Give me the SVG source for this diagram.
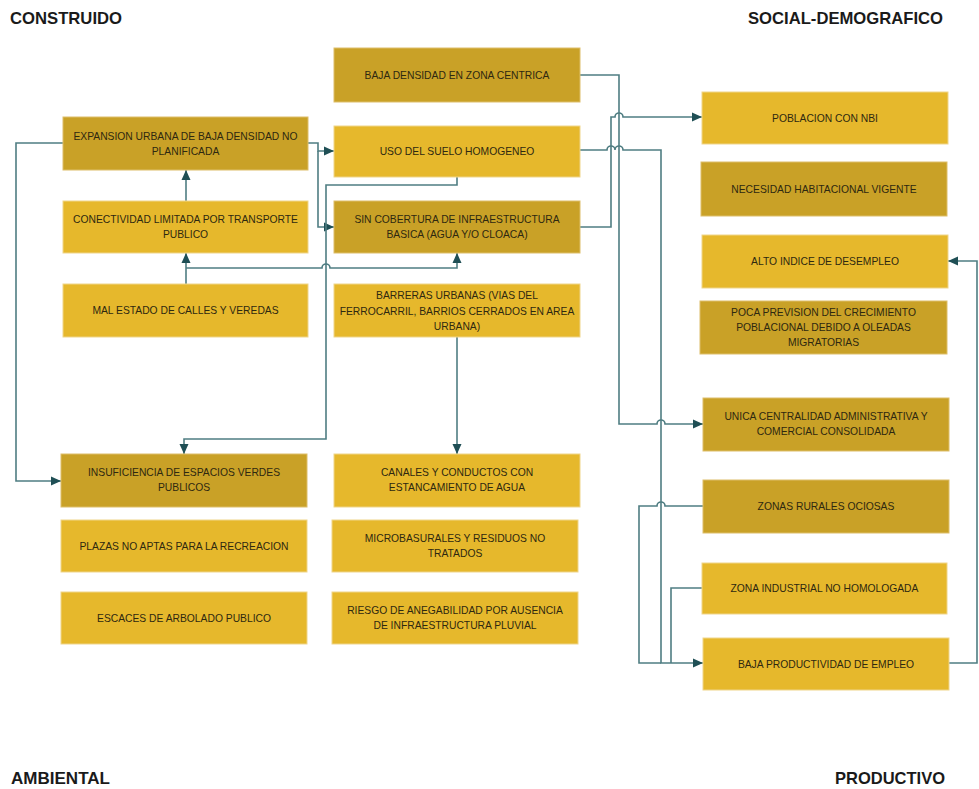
<svg xmlns="http://www.w3.org/2000/svg" width="979" height="789" viewBox="0 0 979 789">
<style>
.l{fill:#E6B82C;stroke:#EFD58A;stroke-width:1}
.d{fill:#C9A127;stroke:#DDBE6A;stroke-width:1}
.t{font-family:"Liberation Sans",Arial,sans-serif;font-size:10.3px;fill:#2E2810;text-anchor:middle}
.h{font-family:"Liberation Sans",Arial,sans-serif;font-size:17px;font-weight:bold;fill:#1A1A1A}
.c{fill:none;stroke:#4F7D82;stroke-width:1.6}
.a{marker-end:url(#arr)}
</style>
<defs>
<marker id="arr" viewBox="0 0 10 10" refX="10" refY="5" markerWidth="10" markerHeight="10" markerUnits="userSpaceOnUse" orient="auto">
<path d="M0,0.5 L10,5 L0,9.5 Z" fill="#1F4F55"/>
</marker>
</defs>
<rect width="979" height="789" fill="#FFFFFF"/>
<g id="labels">
<text class="h" x="10" y="24" textLength="112" lengthAdjust="spacingAndGlyphs">CONSTRUIDO</text>
<text class="h" x="748" y="24" textLength="195" lengthAdjust="spacingAndGlyphs">SOCIAL-DEMOGRAFICO</text>
<text class="h" x="11" y="784" textLength="99" lengthAdjust="spacingAndGlyphs">AMBIENTAL</text>
<text class="h" x="835" y="784" textLength="110" lengthAdjust="spacingAndGlyphs">PRODUCTIVO</text>
</g>
<g id="connectors">
<path class="c a" d="M186,284 V253"/>
<path class="c a" d="M186,201 V170"/>
<path class="c a" d="M186,268 H322 A4,4 0 0 1 330,268 H457 V253"/>
<path class="c a" d="M308,143 H318 V151 H334"/>
<path class="c a" d="M318,151 V227 H334"/>
<path class="c a" d="M457,177 V185 H326 V439 H184 V454"/>
<path class="c a" d="M63,143 H16 V481 H61"/>
<path class="c a" d="M457,337 V454"/>
<path class="c a" d="M580,75 H619 V424 H657 A4,4 0 0 1 665,424 H703"/>
<path class="c a" d="M580,227 H611 V117 H615 A4,4 0 0 1 623,117 H702"/>
<path class="c a" d="M580,150 H607 A4,4 0 0 1 615,150 A4,4 0 0 1 623,150 H661 V663 H703"/>
<path class="c" d="M703,506 H665 A4,4 0 0 0 657,506 H639 V663 H661"/>
<path class="c" d="M702,588 H671 V663"/>
<path class="c a" d="M948,663 H977 V261 H948"/>
</g>
<g id="n_expansion"><rect class="d" x="63" y="117" width="245" height="53"/><text class="t" x="185.5" y="140">EXPANSION URBANA DE BAJA DENSIDAD NO</text><text class="t" x="185.5" y="155">PLANIFICADA</text></g>
<g id="n_conectividad"><rect class="l" x="63" y="201" width="245" height="52"/><text class="t" x="185.5" y="223">CONECTIVIDAD LIMITADA POR TRANSPORTE</text><text class="t" x="185.5" y="238">PUBLICO</text></g>
<g id="n_malestado"><rect class="l" x="63" y="284" width="245" height="53"/><text class="t" x="185.5" y="314">MAL ESTADO DE CALLES Y VEREDAS</text></g>
<g id="n_insuficiencia"><rect class="d" x="61" y="454" width="246" height="53"/><text class="t" x="184" y="476">INSUFICIENCIA DE ESPACIOS VERDES</text><text class="t" x="184" y="491">PUBLICOS</text></g>
<g id="n_plazas"><rect class="l" x="61" y="520" width="246" height="52"/><text class="t" x="184" y="550">PLAZAS NO APTAS PARA LA RECREACION</text></g>
<g id="n_escaces"><rect class="l" x="61" y="592" width="246" height="52"/><text class="t" x="184" y="622">ESCACES DE ARBOLADO PUBLICO</text></g>
<g id="n_bajadensidad"><rect class="d" x="334" y="48" width="246" height="54"/><text class="t" x="457" y="79">BAJA DENSIDAD EN ZONA CENTRICA</text></g>
<g id="n_usosuelo"><rect class="l" x="334" y="126" width="246" height="51"/><text class="t" x="457" y="155">USO DEL SUELO HOMOGENEO</text></g>
<g id="n_sincobertura"><rect class="d" x="334" y="201" width="246" height="52"/><text class="t" x="457" y="223">SIN COBERTURA DE INFRAESTRUCTURA</text><text class="t" x="457" y="238">BASICA (AGUA Y/O CLOACA)</text></g>
<g id="n_barreras"><rect class="l" x="334" y="284" width="246" height="53"/><text class="t" x="457" y="299">BARRERAS URBANAS (VIAS DEL</text><text class="t" x="457" y="314.5">FERROCARRIL, BARRIOS CERRADOS EN AREA</text><text class="t" x="457" y="330">URBANA)</text></g>
<g id="n_canales"><rect class="l" x="334" y="454" width="246" height="53"/><text class="t" x="457" y="476">CANALES Y CONDUCTOS CON</text><text class="t" x="457" y="491">ESTANCAMIENTO DE AGUA</text></g>
<g id="n_microbasurales"><rect class="l" x="332" y="520" width="246" height="52"/><text class="t" x="455" y="542">MICROBASURALES Y RESIDUOS NO</text><text class="t" x="455" y="557">TRATADOS</text></g>
<g id="n_riesgo"><rect class="l" x="332" y="592" width="246" height="52"/><text class="t" x="455" y="614">RIESGO DE ANEGABILIDAD POR AUSENCIA</text><text class="t" x="455" y="629">DE INFRAESTRUCTURA PLUVIAL</text></g>
<g id="n_poblacion"><rect class="l" x="702" y="92" width="246" height="52"/><text class="t" x="825" y="121.5">POBLACION CON NBI</text></g>
<g id="n_necesidad"><rect class="d" x="701" y="162" width="246" height="54"/><text class="t" x="824" y="192.5">NECESIDAD HABITACIONAL VIGENTE</text></g>
<g id="n_altoindice"><rect class="l" x="702" y="235" width="246" height="53"/><text class="t" x="825" y="265">ALTO INDICE DE DESEMPLEO</text></g>
<g id="n_poca"><rect class="d" x="700" y="301" width="247" height="53"/><text class="t" x="823.5" y="315.5">POCA PREVISION DEL CRECIMIENTO</text><text class="t" x="823.5" y="330.5">POBLACIONAL DEBIDO A OLEADAS</text><text class="t" x="823.5" y="345.5">MIGRATORIAS</text></g>
<g id="n_unica"><rect class="d" x="703" y="398" width="246" height="53"/><text class="t" x="826" y="420">UNICA CENTRALIDAD ADMINISTRATIVA Y</text><text class="t" x="826" y="435">COMERCIAL CONSOLIDADA</text></g>
<g id="n_zonasrurales"><rect class="d" x="703" y="480" width="246" height="53"/><text class="t" x="826" y="510">ZONAS RURALES OCIOSAS</text></g>
<g id="n_zonaindustrial"><rect class="l" x="702" y="563" width="245" height="51"/><text class="t" x="824.5" y="592">ZONA INDUSTRIAL NO HOMOLOGADA</text></g>
<g id="n_bajaproductividad"><rect class="l" x="703" y="638" width="246" height="52"/><text class="t" x="826" y="667.5">BAJA PRODUCTIVIDAD DE EMPLEO</text></g>
</svg>
